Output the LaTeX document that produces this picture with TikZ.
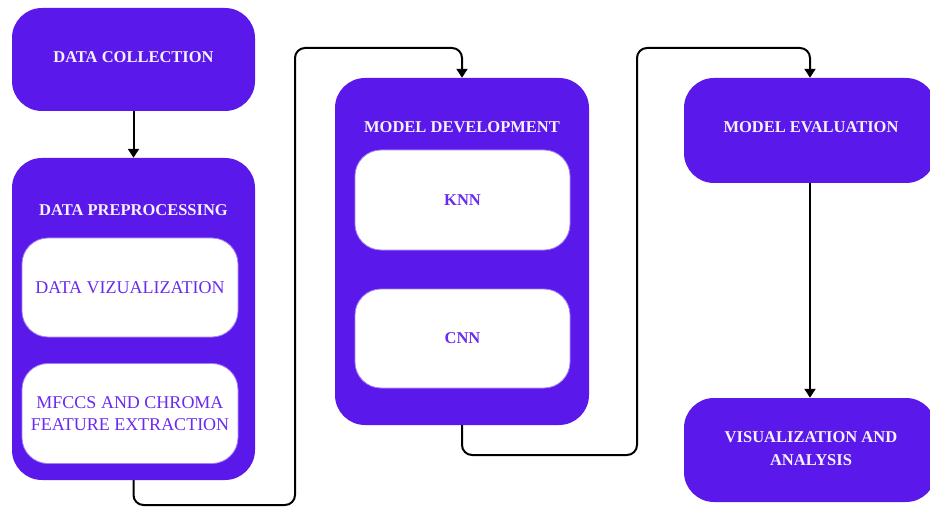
\documentclass[tikz,border=0pt]{standalone}
\usepackage{fontspec}
\setmainfont{Liberation Serif}
\usetikzlibrary{arrows.meta}

\definecolor{stagefill}{HTML}{5B18EB}
\definecolor{subtext}{HTML}{6A2BF0}

\begin{document}
\begin{tikzpicture}[x=1pt, y=-1pt,
  stage/.style={fill=stagefill, rounded corners=30pt, inner sep=0pt, align=center,
    text=white!94!stagefill, font=\bfseries\fontsize{16.5}{23}\selectfont},
  head/.style={text=white!94!stagefill, align=center, font=\bfseries\fontsize{16.5}{23}\selectfont},
  sub/.style={fill=white, draw=stagefill!55!white, line width=0.8pt, rounded corners=26pt,
    minimum width=216pt, minimum height=99pt, align=center, text=subtext,
    font=\fontsize{18}{22}\selectfont},
  link/.style={-{Triangle[width=11pt,length=9pt]}, line width=2pt, rounded corners=10pt}
]
  \useasboundingbox (0,0) rectangle (930,508);

  % stage boxes
  \node[stage, minimum width=243pt, minimum height=103pt] (collect) at (133.5,59.5) {};
  \node[head] (collecthead) at (133.5,57) {DATA COLLECTION};
  \node[stage, minimum width=243pt, minimum height=322pt] (prep) at (133.5,319) {};
  \node[head] (prephead) at (133.5,210) {DATA PREPROCESSING};
  \node[stage, minimum width=254pt, minimum height=347pt] (dev) at (462,251.5) {};
  \node[head] (devhead) at (462,127) {MODEL DEVELOPMENT};
  \node[stage, minimum width=252pt, minimum height=105pt] (eval) at (810,130.5) {};
  \node[head] (evalhead) at (811,127) {MODEL EVALUATION};
  \node[stage, minimum width=252pt, minimum height=104pt] (vis) at (810,450) {};
  \node[head] (vishead) at (811,448.5) {VISUALIZATION AND\\ANALYSIS};

  % inner steps
  \node[sub] (viz) at (130,287.5) {DATA VIZUALIZATION};
  \node[sub, minimum height=100pt] (mfcc) at (130,413.5) {MFCCS AND CHROMA\\FEATURE EXTRACTION};
  \node[sub, font=\bfseries\fontsize{16.5}{20}\selectfont, minimum width=215pt, minimum height=100pt] (knn) at (462.5,200) {KNN};
  \node[sub, font=\bfseries\fontsize{16.5}{20}\selectfont, minimum width=215pt] (cnn) at (462.5,338.5) {CNN};

  % connectors
  \coordinate (bend1) at (295,505);
  \coordinate (rise1) at (295,48);
  \coordinate (bend2) at (637,455);
  \coordinate (rise2) at (637,48);

  \draw[link] (collect.south) -- (prep.north);
  \draw[link] (prep.south) |- (bend1) -- (rise1) -| (dev.north);
  \draw[link] (dev.south) |- (bend2) -- (rise2) -| (eval.north);
  \draw[link] (eval.south) -- (vis.north);
\end{tikzpicture}
\end{document}
